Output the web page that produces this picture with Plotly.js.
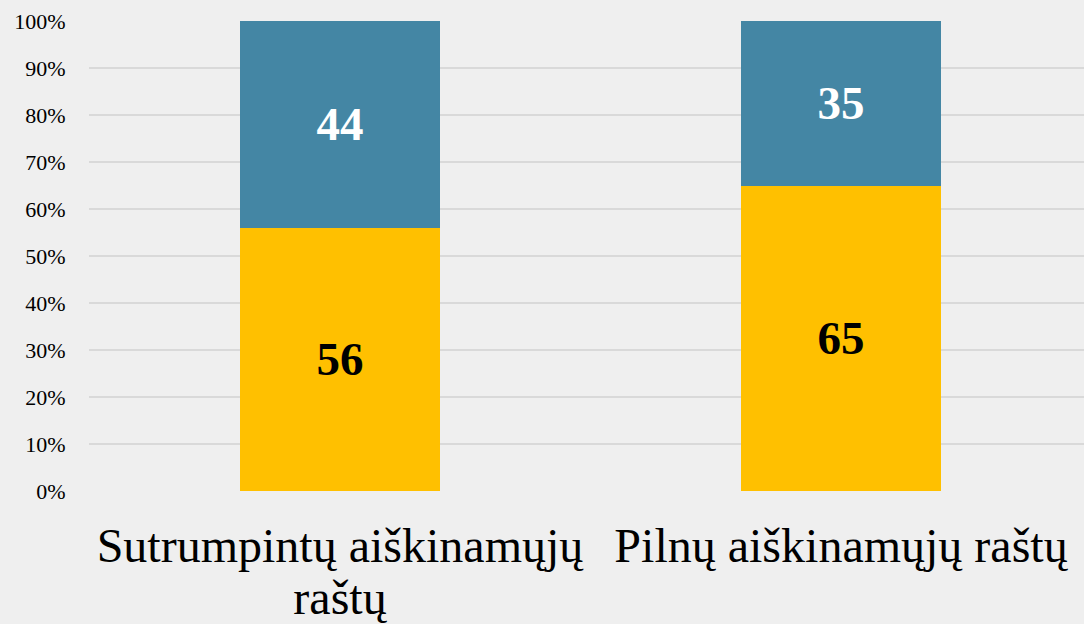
<!DOCTYPE html>
<html>
<head>
<meta charset="utf-8">
<script src="https://cdn.plot.ly/plotly-3.0.1.min.js"></script>
<style>
  html, body { margin: 0; padding: 0; background: #efefef; }
  #chart { width: 1084px; height: 624px; }
</style>
</head>
<body>
<div id="chart"></div>
<script>
const categories = ['Sutrumpintų aiškinamųjų<br>raštų', 'Pilnų aiškinamųjų raštų'];
const lowerValues = [56, 65];
const upperValues = [44, 35];

const data = [
  {
    x: categories, y: lowerValues, type: 'bar', name: 'Apačia',
    marker: {color: '#ffc000'},
    text: lowerValues.map(String), textposition: 'inside', insidetextanchor: 'middle',
    textfont: {family: 'Liberation Serif', size: 47, color: '#000000', weight: 'bold'},
    width: 0.4
  },
  {
    x: categories, y: upperValues, type: 'bar', name: 'Viršus',
    marker: {color: '#4486a4'},
    text: upperValues.map(String), textposition: 'inside', insidetextanchor: 'middle',
    textfont: {family: 'Liberation Serif', size: 47, color: '#ffffff', weight: 'bold'},
    width: 0.4
  }
];

const layout = {
  width: 1084,
  height: 624,
  barmode: 'stack',
  barnorm: 'percent',
  showlegend: false,
  paper_bgcolor: '#efefef',
  plot_bgcolor: '#efefef',
  margin: {l: 89, r: 0, t: 21, b: 133},
  font: {family: 'Liberation Serif', color: '#000000'},
  xaxis: {
    range: [-0.501, 1.485],
    showgrid: false,
    zeroline: false,
    showline: false,
    tickfont: {family: 'Liberation Serif', size: 48, color: '#000000'},
    ticks: 'outside', ticklen: 12, tickcolor: 'rgba(0,0,0,0)'
  },
  yaxis: {
    range: [0, 100],
    dtick: 10,
    ticksuffix: '%',
    gridcolor: '#d9d9d9',
    gridwidth: 1.5,
    zeroline: false,
    showline: false,
    tickfont: {family: 'Liberation Serif', size: 22, color: '#000000'},
    ticks: 'outside', ticklen: 18, tickcolor: 'rgba(0,0,0,0)'
  }
};

Plotly.newPlot('chart', data, layout, {displayModeBar: false, staticPlot: true}).then(function () {
  // tighter line spacing for the wrapped category label
  document.querySelectorAll('.xtick text tspan.line').forEach(function (t, i) {
    if (i > 0) t.setAttribute('dy', '1.1em');
  });
});
</script>
</body>
</html>
